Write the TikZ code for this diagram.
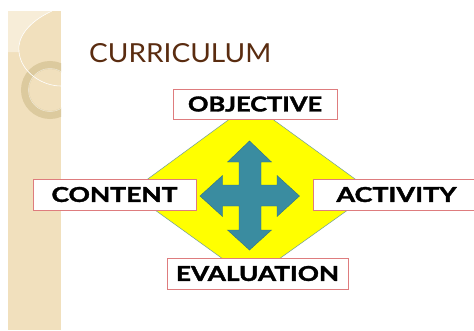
\documentclass[tikz,border=0pt]{standalone}
\usepackage{fontspec}
\setmainfont{Lato}
\newfontfamily\heavyfont[BoldFeatures={FakeBold=1.6}]{Lato}
\usepackage{graphicx}
\definecolor{stripbase}{HTML}{F1E0BD}
\definecolor{striplight}{HTML}{F7EDD8}
\definecolor{ringtan}{HTML}{DCCA9E}
\definecolor{titlebrown}{HTML}{5A2C10}
\definecolor{boxedge}{HTML}{DE7C7E}
\definecolor{hexfill}{HTML}{FFFF00}
\definecolor{hexedge}{HTML}{6F9C9E}
\definecolor{crossfill}{HTML}{3A8CA0}
\definecolor{crossedge}{HTML}{2E7284}
\begin{document}
\begin{tikzpicture}[x=1pt,y=-1pt,
  labelbox/.style={draw=boxedge, line width=1pt, fill=white, inner sep=0pt,
    minimum height=31pt, text=black, font=\heavyfont\bfseries},
  titletext/.style={text=titlebrown, inner sep=0pt}]
\useasboundingbox (0,0) rectangle (474,330);
\fill[white] (0,0) rectangle (474,330);

% decorative side strip
\begin{scope}
  \clip (8,11) rectangle (61,330);
  \fill[stripbase] (8,11) rectangle (61,330);
  \fill[striplight] (8,11) -- (52,11) .. controls (28,22) and (17,38) .. (19,52) -- (8,52) -- cycle;
  \draw[ringtan, line width=8pt] (50,90) circle (25);
  \draw[white, opacity=0.6, line width=0.5pt] (50,90) circle (21.5);
  \draw[white, line width=0.6pt] (52,11) .. controls (28,22) and (17,38) .. (19,52)
    .. controls (21,72) and (42,86) .. (61,86);
\end{scope}

% title
\node[titletext, anchor=north west] (title) at (89,43)
  {\resizebox{182pt}{19pt}{CURRICULUM}};

% yellow hexagon behind the labels
\filldraw[fill=hexfill, draw=hexedge, line width=0.5pt]
  (231,118) -- (271,118) -- (373,192) -- (279,259) -- (223,259) -- (130,192) -- cycle;

% four-way arrow
\filldraw[fill=crossfill, draw=crossedge, line width=0.4pt]
  (249.5,141) -- (271.5,162) -- (261,162) -- (261,185) -- (277,185) -- (277,175.5)
  -- (299.5,196) -- (277,216.5) -- (277,206) -- (261,206) -- (261,230) -- (271.5,230)
  -- (249.5,250) -- (227.5,230) -- (239,230) -- (239,206) -- (222.5,206) -- (222.5,216.5)
  -- (200,196) -- (222.5,175.5) -- (222.5,185) -- (239,185) -- (239,162) -- (227.5,162)
  -- cycle;

% labels
\node[labelbox, minimum width=164pt, minimum height=30pt] (objective) at (255,104)
  {\resizebox{134pt}{15pt}{OBJECTIVE}};
\node[labelbox, minimum width=163pt] (content) at (114.5,194.5)
  {\resizebox{126pt}{15pt}{CONTENT}};
\node[labelbox, minimum width=167pt] (activity) at (396.5,194.5)
  {\resizebox{120pt}{15pt}{ACTIVITY}};
\node[labelbox, minimum width=181pt] (evaluation) at (257.5,273.5)
  {\resizebox{163pt}{15pt}{EVALUATION}};
\end{tikzpicture}
\end{document}
